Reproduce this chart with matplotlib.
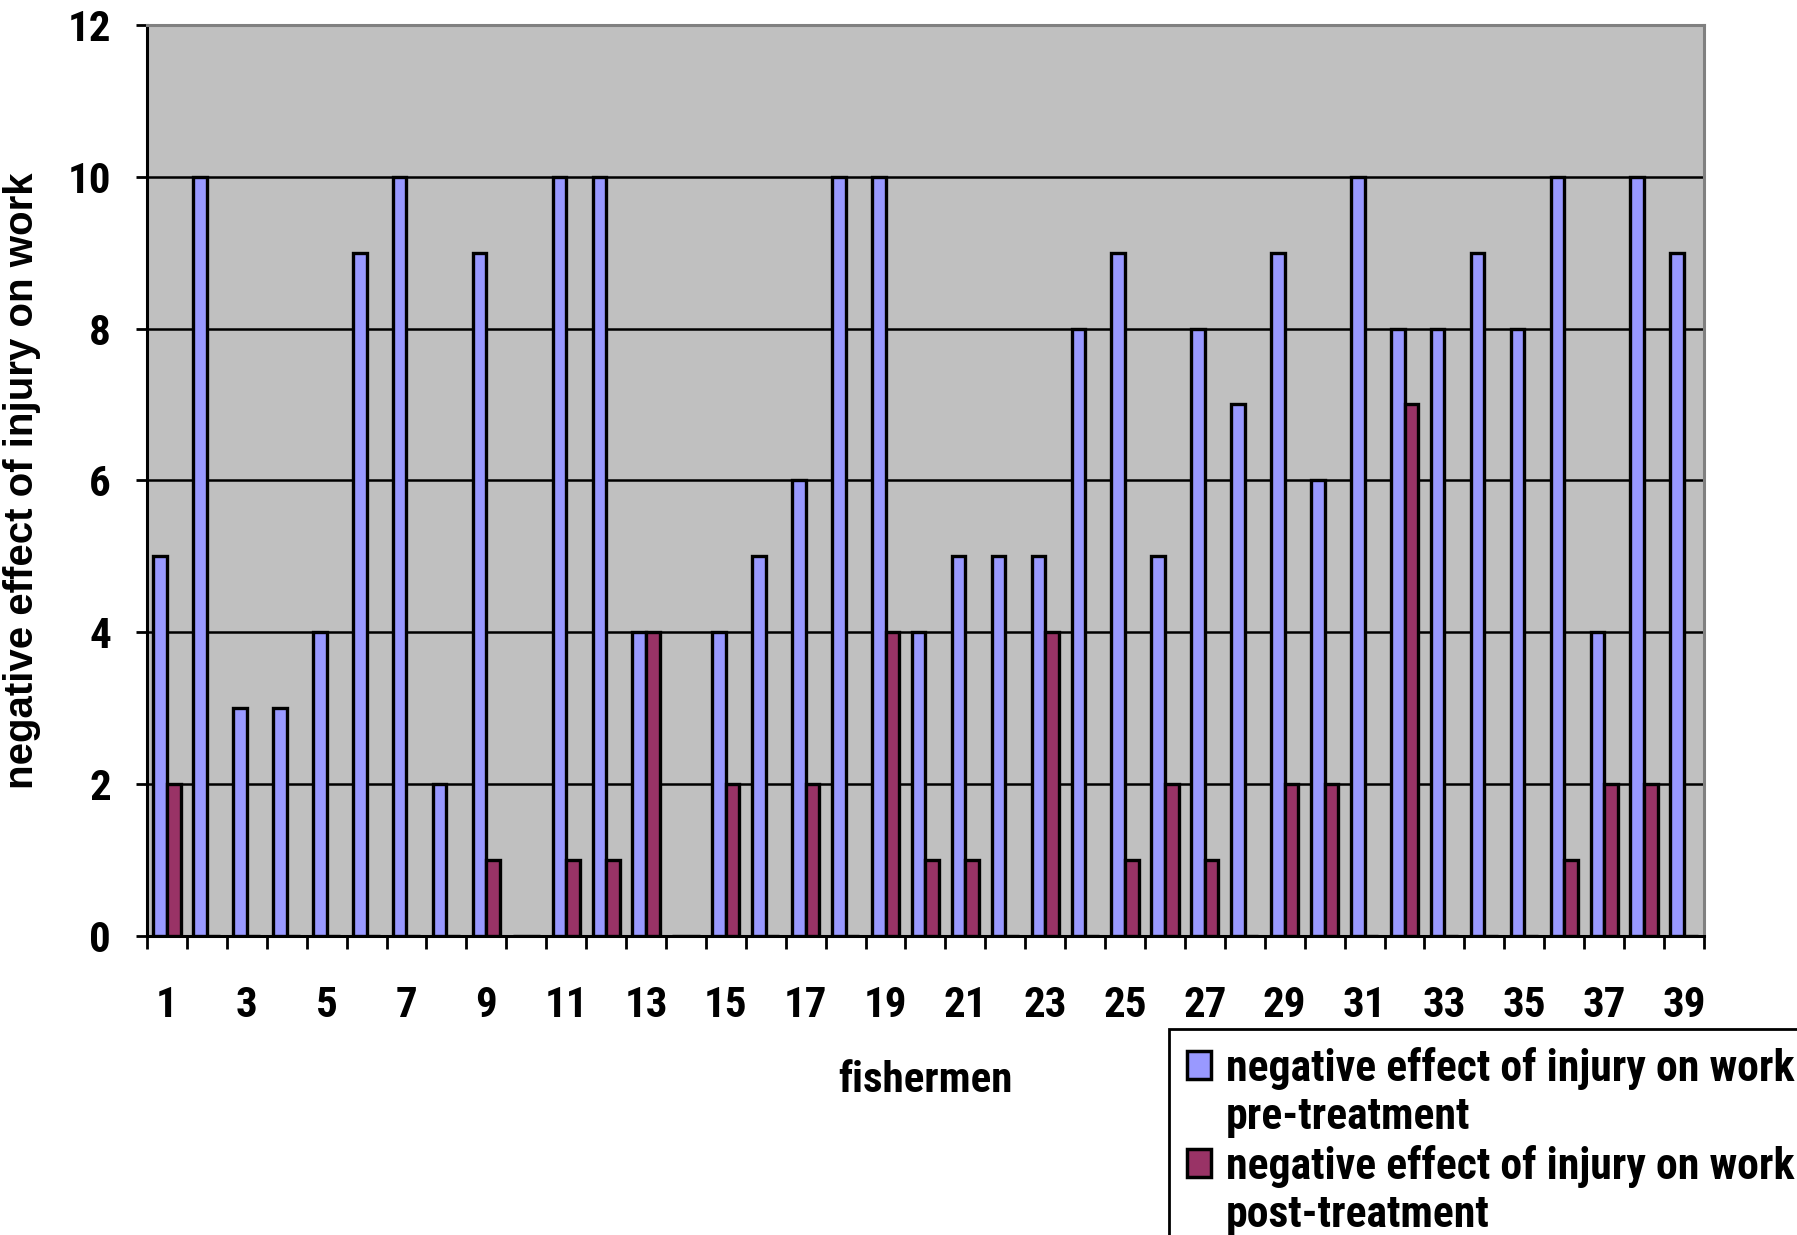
import numpy as np
import matplotlib.pyplot as plt
from matplotlib.patches import Patch

# Оценка влияния травмы на работу (0-12) по каждому рыбаку
fishermen = list(range(1, 40))
pre_treatment = [5, 10, 3, 3, 4, 9, 10, 2, 9, 0,
                 10, 10, 4, 0, 4, 5, 6, 10, 10, 4,
                 5, 5, 5, 8, 9, 5, 8, 7, 9, 6,
                 10, 8, 8, 9, 8, 10, 4, 10, 9]
post_treatment = [2, 0, 0, 0, 0, 0, 0, 0, 1, 0,
                  1, 1, 4, 0, 2, 0, 2, 0, 4, 1,
                  1, 0, 4, 0, 1, 2, 1, 0, 2, 2,
                  0, 7, 0, 0, 0, 1, 2, 2, 0]
y_ticks = [0, 2, 4, 6, 8, 10, 12]
x_labels = [str(n) for n in fishermen if n % 2 == 1]

label_pre = ['negative effect of injury on work', 'pre-treatment']
label_post = ['negative effect of injury on work', 'post-treatment']

narrow = ['Roboto Condensed', 'Liberation Sans', 'DejaVu Sans']
plt.rcParams['font.family'] = narrow
plt.rcParams['font.weight'] = 'bold'

blue = '#9999FF'
maroon = '#993366'

fig = plt.figure(figsize=(17.97, 12.35), dpi=100)
ax = fig.add_axes([0.0818, 0.242, 0.8664, 0.738])
ax.set_facecolor('#C0C0C0')

x = np.array(fishermen)
w = 0.34
ax.bar(x - w / 2, pre_treatment, width=w, color=blue, edgecolor='black', linewidth=2.4, zorder=3)
ax.bar(x + w / 2, post_treatment, width=w, color=maroon, edgecolor='black', linewidth=2.4, zorder=3)

# линии сетки без верхней границы
for y in y_ticks[1:-1]:
    ax.axhline(y, color='black', linewidth=1.8, zorder=1)

ax.set_xlim(0.5, 39.5)
ax.set_ylim(0, 12)
ax.set_yticks(y_ticks)
ax.set_yticklabels([str(v) for v in y_ticks], fontsize=31, fontweight='bold')

ax.set_xticks([n for n in fishermen if n % 2 == 1])
ax.set_xticklabels(x_labels, fontsize=31, fontweight='bold')
ax.set_xticks(np.arange(0.5, 40, 1), minor=True)
ax.tick_params(axis='x', which='major', length=0, pad=35)
ax.tick_params(axis='x', which='minor', length=9, width=2, direction='out')
ax.tick_params(axis='y', length=8, width=2, pad=18)

for side in ['left', 'bottom']:
    ax.spines[side].set_color('black')
    ax.spines[side].set_linewidth(2.2)
for side in ['top', 'right']:
    ax.spines[side].set_color('#808080')
    ax.spines[side].set_linewidth(2.2)

ax.set_ylabel('negative effect of injury on work', fontsize=29, fontweight='bold',
              family=['Liberation Sans', 'DejaVu Sans'])
ax.yaxis.set_label_coords(-0.068, 0.5)
ax.set_xlabel('fishermen', fontsize=31, fontweight='bold')
ax.xaxis.set_label_coords(0.5, -0.136)

# легенда: вторая строка подписи идёт отдельной строкой без маркера
empty = Patch(facecolor='none', edgecolor='none')
handles = [Patch(facecolor=blue, edgecolor='black', linewidth=2.5), empty,
           Patch(facecolor=maroon, edgecolor='black', linewidth=2.5), empty]
labels = label_pre + label_post
leg = fig.legend(handles, labels, loc='upper left',
                 bbox_to_anchor=(1169 / 1797, 1 - 1029 / 1235),
                 bbox_transform=fig.transFigure, borderaxespad=0,
                 frameon=True, fancybox=False, framealpha=1,
                 edgecolor='black', borderpad=0.4, handlelength=0.55,
                 handleheight=0.6, handletextpad=0.35, labelspacing=0.15,
                 prop={'family': narrow, 'weight': 'bold', 'size': 31.5})
leg.get_frame().set_linewidth(2)

fig.savefig('out.png', dpi=100)
